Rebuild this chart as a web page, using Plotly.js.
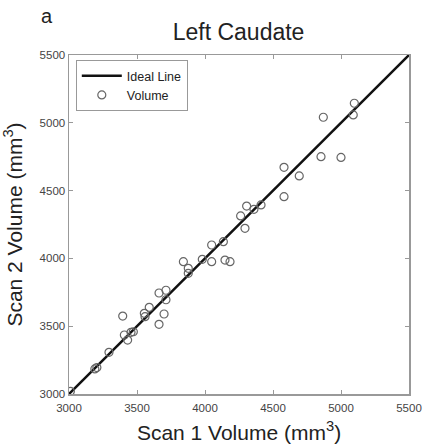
<!DOCTYPE html>
<html>
<head>
<meta charset="utf-8">
<script src="https://cdn.plot.ly/plotly-3.0.1.min.js"></script>
<style>
html,body{margin:0;padding:0;background:#fff;}
#chart{width:426px;height:448px;}
</style>
</head>
<body>
<div id="chart"></div>
<script>
// Scan 1 vs Scan 2 volumes (mm^3)
const scan1 = [3010, 3190, 3205, 3294, 3395, 3407, 3431, 3456, 3473, 3554, 3559, 3590,
  3662, 3699, 3662, 3713, 3713, 3841, 3877, 3877, 3980, 4049, 4049, 4135, 4147, 4184,
  4262, 4294, 4306, 4360, 4412, 4581, 4581, 4693, 4853, 5000, 4870, 5090, 5098];
const scan2 = [3020, 3185, 3195, 3307, 3575, 3435, 3398, 3455, 3459, 3595, 3570, 3639,
  3514, 3590, 3745, 3765, 3695, 3976, 3927, 3890, 3993, 3976, 4099, 4123, 3988, 3976,
  4313, 4222, 4386, 4362, 4394, 4672, 4455, 4608, 4750, 4745, 5041, 5058, 5144];
const idealLine = [3000, 5500];
const tickVals = [3000, 3500, 4000, 4500, 5000, 5500];

const sans = '"Liberation Sans", Arial, sans-serif';

const traces = [
  {x: idealLine, y: idealLine, mode: 'lines', name: 'Ideal Line',
   line: {color: '#111', width: 2.5}},
  {x: scan1, y: scan2, mode: 'markers', name: 'Volume',
   marker: {symbol: 'circle-open', size: 8, color: '#666', line: {width: 1.2, color: '#666'}}}
];

const axisCommon = {
  range: [3000, 5500], tickvals: tickVals, ticktext: tickVals.map(String),
  showgrid: false, zeroline: false, showline: true, linecolor: '#999', linewidth: 1.5,
  mirror: 'ticks', ticks: 'inside', ticklen: 4, tickcolor: '#999',
  tickfont: {family: sans, size: 11.5, color: '#444'}
};

const layout = {
  width: 426, height: 448,
  margin: {l: 69, r: 17, t: 55, b: 54},
  paper_bgcolor: '#fff', plot_bgcolor: '#fff',
  showlegend: true,
  title: {text: 'Left Caudate', x: 0.56, xanchor: 'center', y: 0.928, yanchor: 'middle',
    font: {family: sans, size: 23, color: '#222'}},
  xaxis: Object.assign({}, axisCommon, {
    ticklabelstandoff: 3,
    title: {text: 'Scan 1 Volume (mm<sup>3</sup>)', standoff: 12,
      font: {family: sans, size: 21, color: '#222'}}
  }),
  yaxis: Object.assign({}, axisCommon, {
    title: {text: 'Scan 2 Volume (mm<sup>3</sup>)', standoff: 16,
      font: {family: sans, size: 21, color: '#222'}}
  }),
  legend: {x: 0.02, y: 0.985, xanchor: 'left', yanchor: 'top',
    bgcolor: '#fff', bordercolor: '#999', borderwidth: 1,
    font: {family: sans, size: 12.5, color: '#222'},
    tracegroupgap: 0, itemwidth: 40},
  annotations: [
    {text: 'a', xref: 'paper', yref: 'paper', x: -0.065, y: 1.115, xanchor: 'center', yanchor: 'middle',
     showarrow: false, font: {family: sans, size: 20, color: '#222'}}
  ]
};

Plotly.newPlot('chart', traces, layout, {displayModeBar: false, staticPlot: true});
</script>
</body>
</html>
